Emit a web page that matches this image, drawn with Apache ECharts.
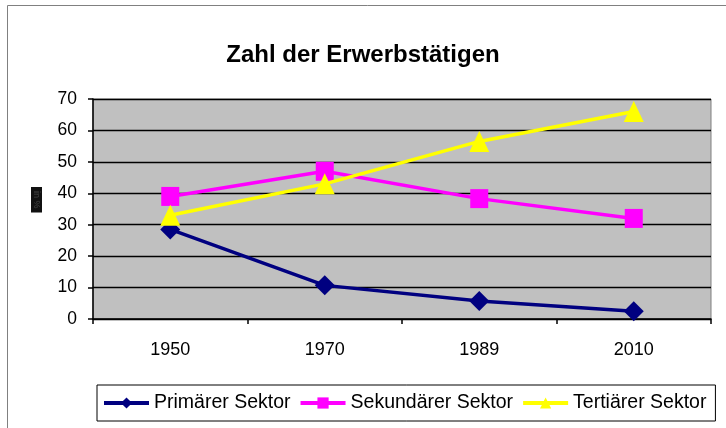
<!DOCTYPE html>
<html>
<head>
<meta charset="utf-8">
<script src="https://cdn.jsdelivr.net/npm/echarts@6/dist/echarts.min.js"></script>
<style>
  html, body { margin: 0; padding: 0; background: #fff; }
  #chart { width: 726px; height: 428px; }
</style>
</head>
<body>
<div id="chart"></div>
<script>
// Jahre auf der x-Achse
const years = ['1950', '1970', '1989', '2010']
// Anteile der Sektoren
const primaer = [28.5, 10.7, 5.7, 2.5]
const sekundaer = [39, 47, 38.3, 32]
const tertiaer = [33, 43, 56.5, 66]
const seriesNames = ['Primärer Sektor', 'Sekundärer Sektor', 'Tertiärer Sektor']

const font = 'Arial, "Liberation Sans", sans-serif'

const myChart = echarts.init(document.getElementById('chart'))

const option = {
  animation: false,
  backgroundColor: '#fff',
  textStyle: { fontFamily: font, color: '#000' },
  title: {
    text: 'Zahl der Erwerbstätigen',
    left: 'center',
    top: 38,
    textStyle: { fontFamily: font, fontSize: 24, fontWeight: 'bold', color: '#000' }
  },
  graphic: [
    {
      type: 'rect',
      shape: { x: 7.5, y: 5.5, width: 730, height: 440 },
      style: { fill: 'none', stroke: '#808080', lineWidth: 1 },
      z: -1
    },
    {
      type: 'text',
      x: 42,
      y: 187,
      rotation: -Math.PI / 2,
      originX: 0,
      originY: 0,
      style: {
        text: 'in %',
        fill: '#444',
        backgroundColor: '#111',
        font: '9px ' + font,
        padding: [1, 4]
      }
    }
  ],
  legend: {
    data: seriesNames,
    left: 97,
    top: 385,
    padding: [8, 9, 8, 5],
    itemGap: 8,
    itemWidth: 45,
    itemHeight: 14,
    borderColor: '#000',
    borderWidth: 1,
    lineStyle: { width: 4 },
    textStyle: { fontFamily: font, fontSize: 19.5, color: '#000' }
  },
  grid: {
    left: 93,
    top: 99,
    right: 15,
    bottom: 109,
    show: true,
    backgroundColor: '#c0c0c0',
    borderColor: '#808080',
    borderWidth: 1
  },
  xAxis: {
    type: 'category',
    data: years,
    boundaryGap: true,
    axisLine: { lineStyle: { color: '#000', width: 1.5 } },
    axisTick: { show: true, length: 5, lineStyle: { color: '#000', width: 1.5 } },
    axisLabel: { fontFamily: font, fontSize: 18, color: '#000', margin: 22 }
  },
  yAxis: {
    type: 'value',
    min: 0,
    max: 70,
    interval: 10,
    axisLine: { show: true, lineStyle: { color: '#000', width: 1.5 } },
    axisTick: { show: true, length: 5, lineStyle: { color: '#000', width: 1.5 } },
    axisLabel: { fontFamily: font, fontSize: 17.5, color: '#000', margin: 16 },
    splitLine: { show: true, lineStyle: { color: '#000', width: 1.3 } }
  },
  series: [
    {
      name: seriesNames[0],
      type: 'line',
      data: primaer,
      color: '#000080',
      symbol: 'diamond',
      symbolSize: 20,
      lineStyle: { width: 3.5 },
      z: 3
    },
    {
      name: seriesNames[1],
      type: 'line',
      data: sekundaer,
      color: '#ff00ff',
      symbol: 'rect',
      symbolSize: [18, 19],
      lineStyle: { width: 3.5 },
      z: 4
    },
    {
      name: seriesNames[2],
      type: 'line',
      data: tertiaer,
      color: '#ffff00',
      symbol: 'triangle',
      symbolSize: [20, 21],
      lineStyle: { width: 3.5 },
      z: 5
    }
  ]
}

myChart.setOption(option)
</script>
</body>
</html>
